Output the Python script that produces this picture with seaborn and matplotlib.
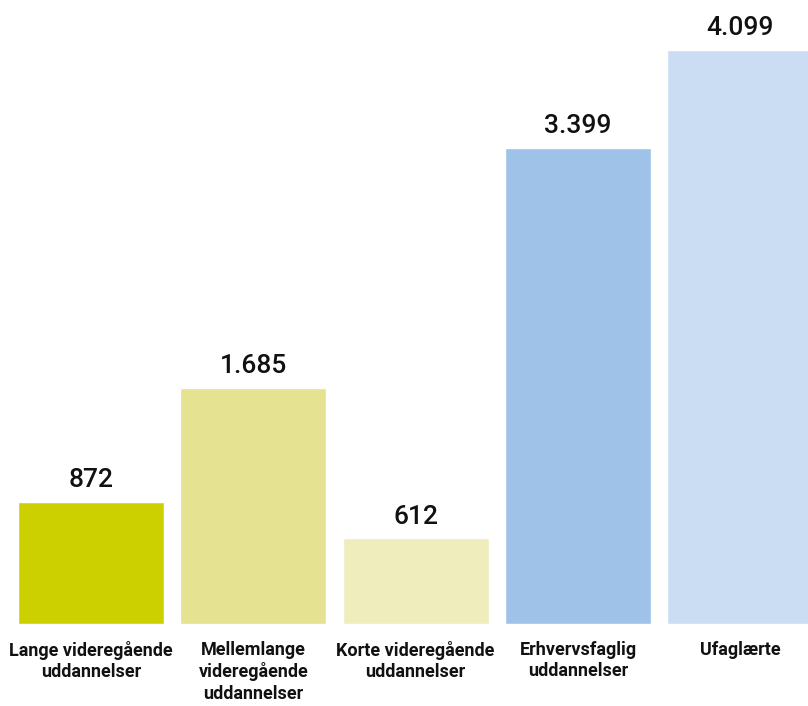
import matplotlib
matplotlib.use("Agg")
import matplotlib.pyplot as plt
import seaborn as sns
import pandas as pd

categories = [
    "Lange videregående\nuddannelser",
    "Mellemlange\nvideregående\nuddannelser",
    "Korte videregående\nuddannelser",
    "Erhvervsfaglig\nuddannelser",
    "Ufaglærte",
]
values = [872, 1685, 612, 3399, 4099]
colors = ["#cdd000", "#e5e291", "#efedbc", "#9fc3e8", "#cbddf2"]

df = pd.DataFrame({"category": categories, "value": values})

sns.set_style("white")
plt.rcParams["font.family"] = ["Roboto", "DejaVu Sans"]

fig = plt.figure(figsize=(8.08, 7.06), dpi=100)
ax = fig.add_axes([0, (706 - 624) / 706, 1, 624 / 706])

sns.barplot(
    data=df, x="category", y="value", hue="category",
    palette=colors, width=0.9, legend=False, saturation=1, ax=ax,
)

ax.set_xlim(-0.5606, 4.417)
ax.set_ylim(0, 4456)

for c in ax.containers:
    ax.bar_label(
        c, labels=[f"{v:,.0f}".replace(",", ".") for v in c.datavalues],
        padding=7, fontsize=19, fontweight="medium", color="#111111",
    )

ax.set_xlabel("")
ax.set_ylabel("")
ax.set_yticks([])
ax.tick_params(axis="x", length=0, pad=12)
for lbl in ax.get_xticklabels():
    lbl.set_fontsize(13)
    lbl.set_fontweight("bold")
    lbl.set_color("#111111")
    lbl.set_linespacing(1.25)
    lbl.set_verticalalignment("top")
sns.despine(ax=ax, left=True, bottom=True)

fig.savefig("out.png", dpi=100)
